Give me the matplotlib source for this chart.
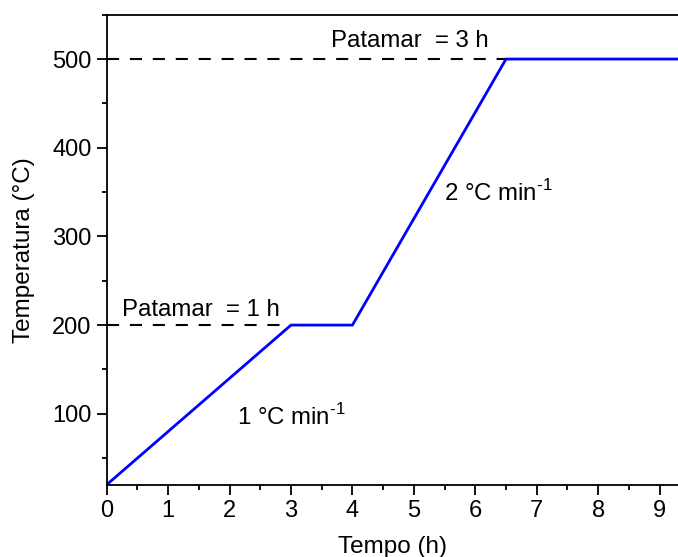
import matplotlib.pyplot as plt
from matplotlib.ticker import MultipleLocator

plt.rcParams['font.family'] = ['Liberation Sans', 'DejaVu Sans']
plt.rcParams['mathtext.fontset'] = 'custom'
plt.rcParams['mathtext.rm'] = 'Liberation Sans'

# Programa de aquecimento: rampa 1 °C/min, patamar 1 h, rampa 2 °C/min, patamar 3 h
tempo = [0, 3, 4, 6.5, 10]
temperatura = [20, 200, 200, 500, 500]

patamares = [200, 500]
fim_rampa = [3, 6.5]

fig = plt.figure(figsize=(6.78, 5.57), dpi=100)
ax = fig.add_axes([0.1574, 0.1298, 0.8426, 0.8438])

for y, x_fim in zip(patamares, fim_rampa):
    ax.plot([0, x_fim], [y, y], color='black', lw=1.5, dashes=(5.8, 5.2))
ax.plot(tempo, temperatura, color='#0000ff', lw=2.0)

ax.set_xlim(0, 9.3)
ax.set_ylim(20, 550)
ax.xaxis.set_major_locator(MultipleLocator(1))
ax.xaxis.set_minor_locator(MultipleLocator(0.5))
ax.yaxis.set_major_locator(MultipleLocator(100))
ax.yaxis.set_minor_locator(MultipleLocator(50))
ax.tick_params(which='major', direction='out', length=7, width=1.3, labelsize=17, pad=4)
ax.tick_params(which='minor', direction='out', length=3.5, width=1.3)
ax.spines['right'].set_visible(False)
for s in ['left', 'bottom', 'top']:
    ax.spines[s].set_linewidth(1.3)

ax.set_xlabel('Tempo (h)', fontsize=17.5, labelpad=10)
ax.set_ylabel('Temperatura (°C)', fontsize=17.5, labelpad=12)

fs = 17.3
ax.text(0.244, 210.8, 'Patamar  = 1 h', fontsize=fs, va='baseline')
ax.text(3.65, 514, 'Patamar  = 3 h', fontsize=fs, va='baseline')
ax.text(5.49, 340, r'2 °C min$^{\text{-1}}$', fontsize=fs, va='baseline')
ax.text(2.12, 87.5, r'1 °C min$^{\text{-1}}$', fontsize=fs, va='baseline')

fig.savefig('out.png', dpi=100)
